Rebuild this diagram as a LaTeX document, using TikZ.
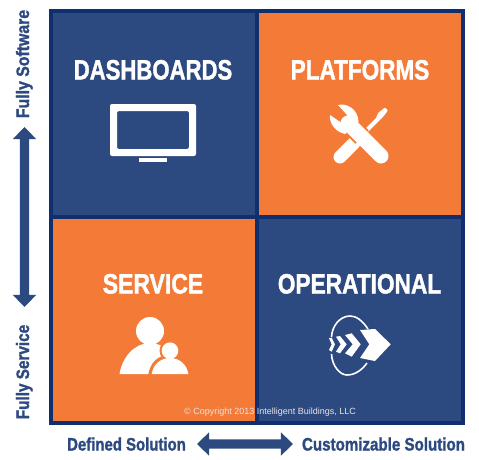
\documentclass[tikz,border=0pt]{standalone}
\usepackage{fontspec}
\setmainfont[BoldFeatures={FakeBold=1.6}]{Liberation Sans}
\usetikzlibrary{shapes.arrows}
\definecolor{framecol}{HTML}{0F2F6E}
\definecolor{bluecol}{HTML}{2D4A80}
\definecolor{orangecol}{HTML}{F47A38}
\definecolor{labelcol}{HTML}{2D4A80}
\definecolor{copycol}{HTML}{E9E4E2}
\newcommand{\titletext}[2]{\fontsize{28}{28}\selectfont\bfseries\scalebox{#1}[1]{#2}}
\newcommand{\axistext}[2]{\fontsize{18}{18}\selectfont\bfseries\scalebox{#1}[1]{#2}}
\tikzset{
  panel/.style={minimum width=202pt,minimum height=202pt,inner sep=0pt,outer sep=0pt,anchor=north west},
  title/.style={text=white,anchor=base,inner sep=0pt},
  axislabel/.style={text=labelcol,anchor=base,inner sep=0pt},
  icon/.style={fill=white,draw=none},
  biarrow/.style={double arrow,fill=labelcol,draw=none,inner sep=4.5pt,minimum width=23pt,double arrow head extend=7pt,double arrow tip angle=88}
}
\begin{document}
\begin{tikzpicture}[x=1pt,y=-1pt]
\useasboundingbox (0,0) rectangle (479,460);
\fill[white] (0,0) rectangle (479,460);
\fill[framecol] (49,9) rectangle (465,425);
\node[panel,fill=bluecol] (dash) at (53,13) {};
\node[panel,fill=orangecol] (plat) at (259,13) {};
\node[panel,fill=orangecol] (serv) at (53,219) {};
\node[panel,fill=bluecol] (oper) at (259,219) {};
\node[title] (tdash) at (153,79.5) {\titletext{0.79}{DASHBOARDS}};
\node[title] (tplat) at (360,79.5) {\titletext{0.805}{PLATFORMS}};
\node[title] (tserv) at (153,293.5) {\titletext{0.82}{SERVICE}};
\node[title] (toper) at (359.5,293.5) {\titletext{0.81}{OPERATIONAL}};
% monitor
\fill[icon,rounded corners=2pt,even odd rule] (110,104) rectangle (196,156) (117,111) rectangle (189,149);
\fill[icon] (139,157.5) rectangle (167,161.5);
% screwdriver
\draw[white,line width=13pt,line cap=round] (340,157) -- (354,143);
\draw[white,line width=4pt] (350,147) -- (379,118);
\fill[white,rounded corners=1pt] (376,118) -- (378,113) -- (385,107.5) -- (388,110.5) -- (382.5,117.5) -- (379,120.5) -- cycle;
% wrench
\draw[orangecol,line width=19pt] (362,137) -- (345,120);
\draw[orangecol,line width=6pt] (358,133) -- (372,147);
\draw[white,line width=15pt,line cap=round] (381,156) -- (348,123);
\fill[white] (338,105) .. controls (346,103) and (358,108) .. (358.5,122) -- (345,134) .. controls (336,132) and (329,124) .. (330,115) -- (341,122.5) -- (347.5,115.5) -- cycle;
% service figure
\fill[icon] (150,331) circle (14pt);
\fill[icon] (119.5,374) .. controls (122,358) and (134,343) .. (150,343) .. controls (166,343) and (178,358) .. (181,374) -- cycle;
\fill[orangecol] (148,376) .. controls (150,362) and (158,355) .. (170,355) .. controls (182,355) and (190,362) .. (191,376) -- cycle;
\fill[orangecol] (170,350.7) circle (10.5pt);
\fill[icon] (170,350.7) circle (8.3pt);
\fill[icon] (151.7,374) .. controls (153,365) and (160,358) .. (170,358) .. controls (180,358) and (187,365) .. (188.3,374) -- cycle;
% operational icon
\draw[white,line width=1.6pt] (368,329) .. controls (362,320) and (356,316) .. (350,316) .. controls (340,316) and (332,326) .. (331.5,337);
\draw[white,line width=1.6pt] (331.5,354) .. controls (332,366) and (340,375) .. (347,375) .. controls (355,375) and (362,370) .. (367,363);
\fill[icon] (360,330) -- (375,329) -- (390.7,344.3) -- (375,361) -- (360,358) -- (369.3,344.3) -- cycle;
\fill[icon] (345,335) -- (351.7,333.3) -- (360.7,344.3) -- (351.7,356.7) -- (345,353.3) -- (352.7,344.3) -- cycle;
\fill[icon] (336,336.7) -- (340,336) -- (346.7,344.3) -- (340,353.3) -- (336,351.7) -- (340.7,344.3) -- cycle;
\fill[icon] (329,338.3) -- (331.7,337.7) -- (335,344.3) -- (331.7,351.7) -- (329,350) -- (331.7,344.3) -- cycle;
% copyright
\node[text=copycol,anchor=base,inner sep=0pt,font=\fontsize{9}{9}\selectfont] (copy) at (270,414.5) {© Copyright 2013 Intelligent Buildings, LLC};
% axis labels
\node[axislabel] (defd) at (126.5,450.5) {\axistext{0.83}{Defined Solution}};
\node[axislabel] (cust) at (383.5,450.5) {\axistext{0.84}{Customizable Solution}};
\node[axislabel,rotate=90] (fsoft) at (29,64) {\axistext{0.88}{Fully Software}};
\node[axislabel,rotate=90] (fserv) at (29,372) {\axistext{0.85}{Fully Service}};
% arrows
\node[biarrow,minimum height=96pt] (harrow) at (245,444) {};
\node[biarrow,minimum height=180pt,rotate=90] (varrow) at (24.5,217) {};
\end{tikzpicture}
\end{document}
